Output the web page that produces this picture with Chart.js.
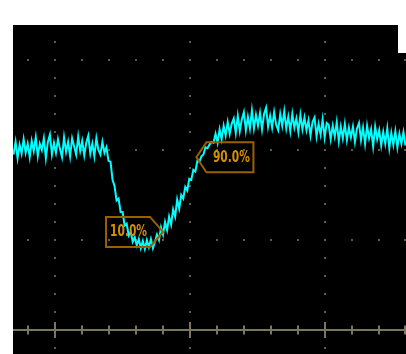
<!DOCTYPE html>
<html>
<head>
<meta charset="utf-8">
<script src="https://cdn.jsdelivr.net/npm/chart.js@4/dist/chart.umd.min.js"></script>
<style>
  html, body { margin: 0; padding: 0; background: #ffffff; width: 406px; height: 354px; overflow: hidden; }
  #wrap { position: absolute; left: 13px; top: 25px; width: 393px; height: 329px; }
  #notch { position: absolute; left: 398px; top: 25px; width: 8px; height: 28px; background: #ffffff; z-index: 2; }
</style>
</head>
<body>
<div id="wrap"><canvas id="c"></canvas></div>
<div id="notch"></div>
<script>
// ---- data (x in horizontal divisions, y in vertical divisions) ----
const sampleStart = -0.31;      // time of first sample (div)
const sampleStep = 0.015;       // sampling interval (div)
const traceValues = [
  1.95, 2.09, 1.91, 2.06, 1.96, 2.12, 1.97, 2.07, 1.92, 2.10,
  1.99, 2.14, 1.93, 2.07, 2.00, 2.13, 1.91, 2.09, 2.17, 1.95,
  2.08, 1.97, 2.12, 2.01, 1.92, 2.14, 1.98, 2.09, 1.93, 2.13,
  2.04, 1.95, 2.15, 1.99, 2.10, 1.94, 2.08, 2.16, 1.96, 2.07,
  1.93, 2.13, 2.00, 1.95, 2.09,
  1.97, 2.03, 1.88, 1.87, 1.67, 1.60, 1.44, 1.46, 1.31, 1.31, 1.16, 1.18, 1.05, 1.09, 0.98, 1.03, 0.94,
  1.01, 0.91, 0.99, 0.90, 1.00, 0.92, 1.01, 0.91, 0.98,
  1.06, 1.00, 1.14, 1.06, 1.20, 1.11, 1.26, 1.17, 1.34, 1.26,
  1.45, 1.35, 1.50, 1.46, 1.59, 1.55, 1.68, 1.67, 1.78, 1.76,
  1.88, 1.87, 1.93, 1.95,
  2.03, 2.02, 2.06, 2.09, 2.08, 2.18, 2.08, 2.23, 2.12, 2.27, 2.16,
  2.31, 2.18, 2.29, 2.35, 2.19,
  2.38, 2.21, 2.34, 2.42, 2.22, 2.37, 2.24,
  2.44, 2.24, 2.39, 2.27, 2.41, 2.23, 2.40, 2.47, 2.26, 2.38,
  2.25, 2.42, 2.28, 2.22, 2.40, 2.27, 2.43, 2.24,
  2.37, 2.21, 2.40, 2.25, 2.35, 2.20, 2.39, 2.23, 2.36, 2.22,
  2.33, 2.16, 2.31, 2.36, 2.15, 2.29, 2.17, 2.34, 2.14, 2.30,
  2.28, 2.12, 2.27, 2.15, 2.31, 2.10, 2.26, 2.13, 2.29, 2.11, 2.25, 2.14,
  2.26, 2.09, 2.24, 2.30, 2.11, 2.25, 2.07, 2.27, 2.13, 2.23, 2.04, 2.26, 2.12,
  2.22, 2.05, 2.20, 2.07, 2.24, 2.02, 2.19, 2.06, 2.21, 2.03, 2.18, 2.07, 2.20, 2.05
];
// measurement markers
const markerLabels = ['10.0%', '90.0%'];
const markerX = [0.80, 1.048];
const markerY = [1.09, 1.92];
const markerSide = ['left', 'right'];
// graticule
const xMajor = [0, 1, 2];
const yMajor = [1, 2, 3];
const axisY = 0;
const minorStep = 0.2;
const xRange = [-0.314, 2.604];
const yRange = [-0.267, 3.389];

const points = traceValues.map((v, i) => ({ x: sampleStart + i * sampleStep, y: v }));

const scopePlugin = {
  id: 'scope',
  beforeDraw(chart) {
    const { ctx, chartArea: a } = chart;
    ctx.save();
    ctx.fillStyle = '#000000';
    ctx.fillRect(a.left, a.top, a.right - a.left, a.bottom - a.top);
    ctx.restore();
  },
  beforeDatasetsDraw(chart) {
    const { ctx, scales: { x, y } } = chart;
    ctx.save();
    ctx.fillStyle = '#5e5b4a';
    for (const yv of yMajor) {
      const py = y.getPixelForValue(yv);
      for (let k = Math.ceil(xRange[0] / minorStep); k * minorStep <= xRange[1]; k++) {
        const px = x.getPixelForValue(k * minorStep);
        ctx.fillRect(Math.round(px) - 1, Math.round(py) - 1, 2, 2);
      }
    }
    for (const xv of xMajor) {
      const px = x.getPixelForValue(xv);
      for (let k = Math.ceil(yRange[0] / minorStep); k * minorStep <= yRange[1]; k++) {
        const py = y.getPixelForValue(k * minorStep);
        ctx.fillRect(Math.round(px) - 1, Math.round(py) - 1, 2, 2);
      }
    }
    const ay = Math.round(y.getPixelForValue(axisY));
    ctx.fillStyle = '#7b7662';
    ctx.fillRect(x.left, ay - 1, x.right - x.left, 2);
    for (let k = Math.ceil(xRange[0] / minorStep); k * minorStep <= xRange[1]; k++) {
      const v = k * minorStep;
      const px = Math.round(x.getPixelForValue(v));
      const major = Math.abs(v - Math.round(v)) < 1e-6;
      const h = major ? 8 : 4.5;
      ctx.fillRect(px - 1, ay - h, 2, 2 * h);
    }
    ctx.restore();
  },
  afterDatasetsDraw(chart) {
    const { ctx, scales: { x, y } } = chart;
    ctx.save();
    markerLabels.forEach((txt, i) => {
      const tx = x.getPixelForValue(markerX[i]);
      const ty = y.getPixelForValue(markerY[i]);
      const s = markerSide[i] === 'left' ? -1 : 1;
      const neck = markerSide[i] === 'left' ? 13 : 10;
      const w = 57, h = 15;
      ctx.beginPath();
      ctx.moveTo(tx, ty);
      ctx.lineTo(tx + s * neck, ty - h);
      ctx.lineTo(tx + s * w, ty - h);
      ctx.lineTo(tx + s * w, ty + h);
      ctx.lineTo(tx + s * neck, ty + h);
      ctx.closePath();
      ctx.lineWidth = 2;
      ctx.strokeStyle = '#9a6000';
      ctx.stroke();
      ctx.font = 'bold 15px "DejaVu Sans"';
      ctx.textBaseline = 'middle';
      ctx.textAlign = 'left';
      const mw = ctx.measureText(txt).width;
      const target = 37;
      const sc = target / mw;
      const left = markerSide[i] === 'left' ? tx - 53 : tx + 16.5;
      ctx.save();
      ctx.translate(left, ty + 0.5);
      ctx.scale(sc, 1);
      ctx.fillStyle = '#d68f00';
      ctx.fillText(txt, 0, 0);
      ctx.restore();
    });
    ctx.restore();
  }
};

new Chart(document.getElementById('c'), {
  type: 'line',
  data: {
    datasets: [{
      data: points,
      borderColor: '#00ffff',
      borderWidth: 2,
      pointRadius: 0,
      tension: 0,
      fill: false
    }]
  },
  options: {
    responsive: true,
    maintainAspectRatio: false,
    animation: false,
    layout: { padding: 0 },
    plugins: { legend: { display: false }, tooltip: { enabled: false } },
    scales: {
      x: { type: 'linear', min: xRange[0], max: xRange[1], display: false },
      y: { type: 'linear', min: yRange[0], max: yRange[1], display: false }
    }
  },
  plugins: [scopePlugin]
});
</script>
</body>
</html>
